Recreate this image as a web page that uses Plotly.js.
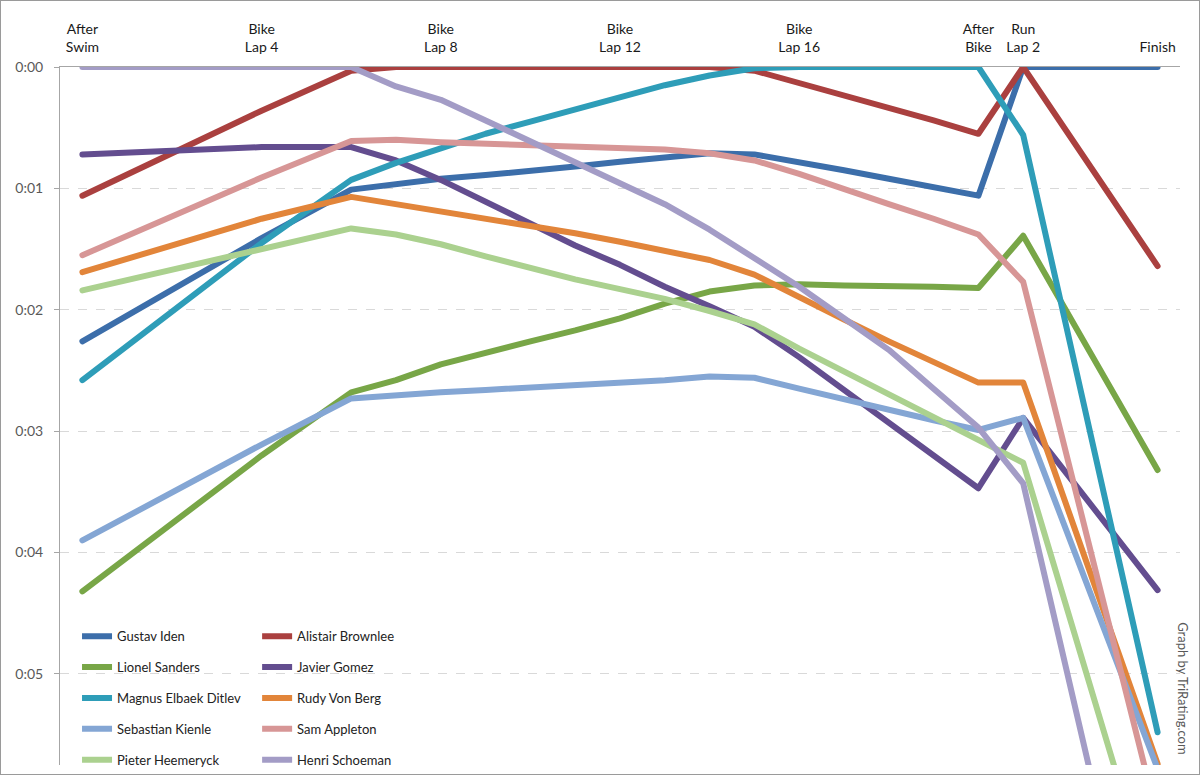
<!DOCTYPE html>
<html>
<head>
<meta charset="utf-8">
<script src="https://cdn.plot.ly/plotly-3.0.1.min.js"></script>
<style>
  html, body { margin: 0; padding: 0; background: #fff; }
  #chart { width: 1200px; height: 775px; box-sizing: border-box; border: 1px solid #9a9a9a; }
  .scatterlayer path.js-line { stroke-linejoin: round; stroke-linecap: round; }
</style>
</head>
<body>
<div id="chart"></div>
<script>
// Race stage index (0 = after swim, 1..20 bike laps, 21.. run laps, 24 = finish)
const stageIdx = [0, 4, 6, 7, 8, 9, 10, 11, 12, 13, 14, 15, 16, 17, 18, 19, 20, 21, 24];

// Tick labels along the top
const tickVals = [0, 4, 8, 12, 16, 20, 21, 24];
const tickLabels = ["After<br>Swim", "Bike<br>Lap 4", "Bike<br>Lap 8", "Bike<br>Lap 12", "Bike<br>Lap 16", "After<br>Bike", "Run<br>Lap 2", "Finish"];

// Gap to the leader (minutes)
const gustavIden        = [2.26, 1.41, 1.01, 0.96, 0.92, 0.89, 0.86, 0.82, 0.78, 0.75, 0.71, 0.72, 0.78, 0.85, 0.92, 0.99, 1.06, 0.00, 0.00];
const alistairBrownlee  = [1.06, 0.36, 0.03, 0.00, 0.00, 0.00, 0.00, 0.00, 0.00, 0.00, 0.00, 0.03, 0.13, 0.23, 0.34, 0.44, 0.55, 0.00, 1.64];
const lionelSanders     = [4.32, 3.20, 2.68, 2.58, 2.45, 2.35, 2.26, 2.17, 2.07, 1.95, 1.85, 1.80, 1.79, 1.80, 1.80, 1.81, 1.82, 1.39, 3.32];
const javierGomez       = [0.72, 0.66, 0.66, 0.77, 0.93, 1.11, 1.29, 1.47, 1.63, 1.81, 1.97, 2.14, 2.39, 2.66, 2.93, 3.20, 3.47, 2.89, 4.31];
const magnusDitlev      = [2.58, 1.45, 0.93, 0.79, 0.67, 0.55, 0.45, 0.35, 0.25, 0.15, 0.07, 0.01, 0.00, 0.00, 0.00, 0.00, 0.00, 0.56, 5.48];
const rudyVonBerg       = [1.69, 1.25, 1.07, 1.13, 1.19, 1.25, 1.30, 1.37, 1.44, 1.52, 1.59, 1.71, 1.90, 2.08, 2.26, 2.43, 2.60, 2.60, 5.74];
const sebastianKienle   = [3.90, 3.11, 2.73, 2.70, 2.68, 2.66, 2.64, 2.62, 2.61, 2.58, 2.55, 2.56, 2.65, 2.74, 2.82, 2.91, 2.99, 2.89, 5.78];
const samAppleton       = [1.55, 0.91, 0.61, 0.60, 0.62, 0.63, 0.64, 0.65, 0.67, 0.68, 0.71, 0.77, 0.88, 1.01, 1.13, 1.25, 1.38, 1.77, 6.19];
const pieterHeemeryck   = [1.84, 1.50, 1.33, 1.38, 1.46, 1.56, 1.66, 1.75, 1.83, 1.91, 2.01, 2.12, 2.32, 2.51, 2.70, 2.89, 3.07, 3.26, 6.95];
const henriSchoeman     = [0.00, 0.00, 0.00, 0.16, 0.27, 0.44, 0.61, 0.78, 0.95, 1.13, 1.34, 1.57, 1.81, 2.07, 2.33, 2.65, 2.97, 3.43, 8.20];

const names  = ["Gustav Iden", "Alistair Brownlee", "Lionel Sanders", "Javier Gomez", "Magnus Elbaek Ditlev",
                "Rudy Von Berg", "Sebastian Kienle", "Sam Appleton", "Pieter Heemeryck", "Henri Schoeman"];
const series = [gustavIden, alistairBrownlee, lionelSanders, javierGomez, magnusDitlev,
                rudyVonBerg, sebastianKienle, samAppleton, pieterHeemeryck, henriSchoeman];
const colors = ["#3C6EAA", "#AA403F", "#78A647", "#634D8F", "#2E9DB8",
                "#E2853A", "#84A6D4", "#D79696", "#ABD18F", "#A39CC6"];

// Y ticks
const yTickVals = [0, 1, 2, 3, 4, 5];
const yTickLabels = ["0:00", "0:01", "0:02", "0:03", "0:04", "0:05"];

const FONT = "Lato, 'Liberation Sans', sans-serif";

const traces = series.map((vals, i) => ({
  type: "scatter",
  mode: "lines",
  x: stageIdx,
  y: vals,
  name: names[i],
  legend: (i % 2 === 0) ? "legend" : "legend2",
  legendgroup: "g" + i,
  line: { color: colors[i], width: 6 },
  hoverinfo: "name+y"
}));

const legendCommon = {
  orientation: "v",
  xanchor: "left",
  yanchor: "top",
  y: 0.206,
  bgcolor: "rgba(0,0,0,0)",
  borderwidth: 0,
  tracegroupgap: 11,
  font: { family: FONT, size: 13, color: "#222" },
  itemwidth: 30
};

const layout = {
  width: 1198,
  height: 773,
  margin: { l: 59, r: 19, t: 66, b: 9, autoexpand: false },
  paper_bgcolor: "#ffffff",
  plot_bgcolor: "#ffffff",
  font: { family: FONT, size: 13, color: "#222" },
  showlegend: true,
  legend: Object.assign({}, legendCommon, { x: 0.0152 }),
  legend2: Object.assign({}, legendCommon, { x: 0.176 }),
  xaxis: {
    side: "top",
    range: [-0.5, 24.5],
    tickvals: tickVals,
    ticktext: tickLabels,
    ticks: "",
    ticklabelstandoff: 8,
    showgrid: false,
    zeroline: false,
    showline: true,
    linecolor: "#a6a6a6",
    linewidth: 1,
    automargin: false,
    tickfont: { family: FONT, size: 14, color: "#1a1a1a" },
    fixedrange: true
  },
  yaxis: {
    range: [5.75, 0],
    tickvals: yTickVals,
    ticktext: yTickLabels,
    ticks: "outside",
    ticklen: 5,
    tickcolor: "#a6a6a6",
    ticklabelstandoff: 8,
    showgrid: true,
    gridcolor: "#d9d9d9",
    griddash: "dash",
    gridwidth: 1,
    zeroline: false,
    showline: true,
    linecolor: "#a6a6a6",
    linewidth: 1,
    automargin: false,
    tickfont: { family: FONT, size: 14, color: "#595959" },
    fixedrange: true
  },
  annotations: [{
    text: "Graph by TriRating.com",
    xref: "paper", yref: "paper",
    x: 1.0027, y: 0.11,
    xanchor: "center", yanchor: "middle",
    textangle: 90,
    showarrow: false,
    font: { family: FONT, size: 13, color: "#595959" }
  }]
};

Plotly.newPlot("chart", traces, layout, { displayModeBar: false, staticPlot: true });
</script>
</body>
</html>
